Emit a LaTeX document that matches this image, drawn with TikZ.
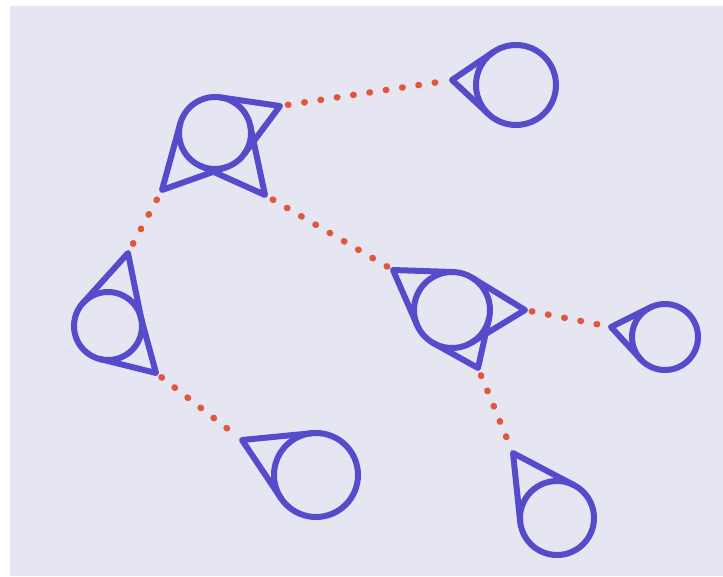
\documentclass[tikz,border=0pt]{standalone}
\usepackage{tikz}
\usetikzlibrary{calc}
\definecolor{gnpaper}{HTML}{E5E6F1}
\definecolor{gnink}{HTML}{564CCB}
\definecolor{gndot}{HTML}{E2553F}
\newcommand{\gncone}[2]{%
  \draw[cone] (tangent cs:node=#1,point={(#2)},solution=1) -- (#2)
    -- (tangent cs:node=#1,point={(#2)},solution=2);
}

\begin{document}
\begin{tikzpicture}[x=1pt, y=-1pt,
  ball/.style={circle, draw=gnink, line width=6pt, inner sep=0pt, outer sep=0pt},
  cone/.style={draw=gnink, line width=6pt, line cap=round, line join=round},
  link/.style={draw=gndot, line width=6.5pt, line cap=round, dash pattern=on 0.5pt off 16pt}]
  % paper
  \useasboundingbox (0,0) rectangle (723,576);
  \fill[white] (0,0) rectangle (723,576);
  \fill[gnpaper] (10,6) rectangle (723,576);
  % balls
  \node[ball, minimum size=80pt] (top) at (516,85) {};
  \node[ball, minimum size=72pt] (hub) at (215,133) {};
  \node[ball, minimum size=68pt] (left) at (108,326) {};
  \node[ball, minimum size=76pt] (mid) at (452,310) {};
  \node[ball, minimum size=66pt] (right) at (665,337) {};
  \node[ball, minimum size=84pt] (lowl) at (316,475) {};
  \node[ball, minimum size=74pt] (lowr) at (557,518) {};
  % cone tips
  \coordinate (topW) at (452,80);
  \coordinate (hubNE) at (280,106);
  \coordinate (hubSE) at (265,195);
  \coordinate (hubSW) at (162,190);
  \coordinate (leftN) at (128,253);
  \coordinate (leftS) at (156,373);
  \coordinate (midNW) at (393,270);
  \coordinate (midE) at (525,310);
  \coordinate (midS) at (478,368);
  \coordinate (rightW) at (611,327);
  \coordinate (lowlNW) at (242,440);
  \coordinate (lowrN) at (513,453);
  % cones
  \gncone{top}{topW}
  \gncone{hub}{hubNE}
  \gncone{hub}{hubSE}
  \gncone{hub}{hubSW}
  \gncone{left}{leftN}
  \gncone{left}{leftS}
  \gncone{mid}{midNW}
  \gncone{mid}{midE}
  \gncone{mid}{midS}
  \gncone{right}{rightW}
  \gncone{lowl}{lowlNW}
  \gncone{lowr}{lowrN}
  % links
  \draw[link, shorten <=8pt, shorten >=12pt] (hubNE) -- (topW);
  \draw[link, shorten <=9pt, shorten >=5pt] (hubSE) -- (midNW);
  \draw[link, shorten <=11pt, shorten >=5pt] (hubSW) -- (leftN);
  \draw[link, shorten <=7pt, shorten >=5pt] (leftS) -- (lowlNW);
  \draw[link, shorten <=7pt, shorten >=5pt] (midE) -- (rightW);
  \draw[link, shorten <=8pt, shorten >=5pt] (midS) -- (lowrN);
\end{tikzpicture}
\end{document}
